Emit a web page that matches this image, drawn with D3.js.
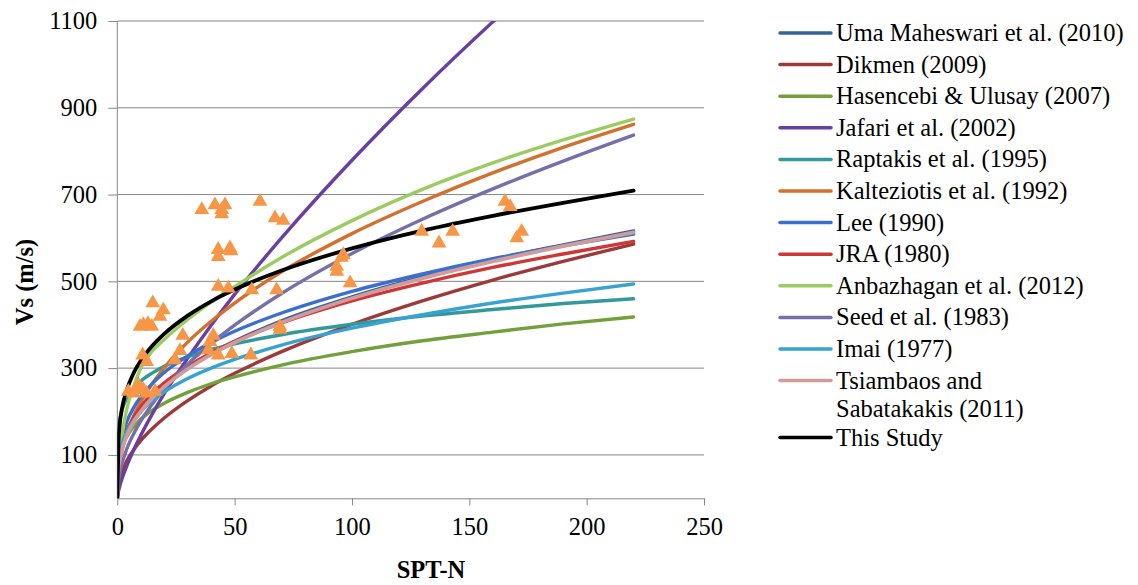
<!DOCTYPE html>
<html>
<head>
<meta charset="utf-8">
<script src="https://cdn.jsdelivr.net/npm/d3@7"></script>
<style>
body { margin: 0; background: #fff; }
svg text { font-family: "Liberation Serif", "Times New Roman", Times, serif; fill: #000; }
</style>
</head>
<body>
<div id="container"></div>
<script>
// SPT-N values where every correlation curve is sampled
var nValues = [0, 0.5, 1, 2, 4, 7, 10, 15, 20, 30, 40, 50, 70, 100, 130, 160, 190, 220];

// Vs (m/s)
var umaMaheswari = [0, 70, 89, 114, 147, 179, 204, 235, 261, 302, 335, 362, 409, 464, 510, 550, 584, 616];
var dikmen       = [0, 32, 44, 61, 86, 112, 133, 161, 185, 225, 259, 288, 338, 401, 455, 503, 546, 586];
var hasencebi    = [0, 81, 98, 118, 142, 165, 182, 203, 219, 244, 264, 280, 307, 338, 363, 383, 402, 418];
var jafari       = [0, 16, 27, 45, 74, 112, 145, 195, 241, 323, 399, 470, 600, 779, 944, 1098, 1244, 1385];
var raptakis     = [0, 161, 181, 204, 230, 253, 270, 289, 304, 326, 343, 356, 377, 401, 420, 435, 449, 460];
var kalteziotis  = [0, 60, 81, 109, 148, 190, 222, 265, 301, 360, 408, 450, 522, 610, 684, 750, 809, 862];
var lee          = [0, 92, 114, 142, 176, 209, 234, 265, 290, 328, 359, 385, 427, 477, 517, 552, 582, 609];
var jra          = [0, 78, 98, 123, 156, 187, 211, 242, 266, 304, 335, 361, 404, 455, 496, 532, 563, 592];
var anbazhagan   = [0, 75, 105, 145, 205, 258, 300, 340, 366, 412, 452, 488, 555, 640, 712, 773, 826, 874];
var seed         = [0, 40, 56, 80, 113, 149, 178, 218, 252, 309, 357, 399, 472, 564, 643, 713, 777, 837];
var imai         = [0, 83, 102, 125, 153, 180, 200, 225, 245, 276, 300, 320, 353, 392, 423, 450, 473, 494];
var tsiambaos    = [0, 68, 87, 112, 144, 176, 200, 232, 257, 298, 331, 359, 405, 461, 507, 546, 581, 613];
var thisStudy    = [0, 130, 168, 207, 249, 289, 317, 352, 379, 421, 454, 481, 525, 576, 617, 651, 681, 709];

// measured points (triangles)
var obsN  = [36, 41.6, 44.5, 45.9, 44.5, 60.8, 67.2, 70.7, 43, 43, 48, 48.5, 43, 47.3, 57.3, 67.9, 93.5, 93.5, 96.3, 95.5,
             99.2, 165.2, 167.4, 129.7, 142.9, 137.1, 172.3, 170.2, 15.1, 19.6, 18.2, 11.1, 14.7, 9.7, 13, 69.3, 69.3, 27.9,
             40.9, 39.5, 26.7, 38.8, 43, 48.8, 56.9, 24.6, 10.8, 12.5, 9, 4.7, 11.1, 16.1, 6.8, 12.5, 8];
var obsVs = [665, 676, 665, 676, 655, 684, 646, 640, 573, 557, 577, 570, 488, 484, 480, 480, 534, 523, 561, 555,
             496, 684, 672, 615, 615, 588, 615, 600, 450, 434, 419, 400, 396, 396, 402, 396, 389, 375,
             375, 361, 340, 342, 330, 333, 330, 319, 330, 315, 261, 246, 250, 246, 242, 242, 250];

var seriesNames = ["Uma Maheswari et al. (2010)", "Dikmen (2009)", "Hasencebi & Ulusay (2007)", "Jafari et al. (2002)",
  "Raptakis et al. (1995)", "Kalteziotis et al. (1992)", "Lee (1990)", "JRA (1980)", "Anbazhagan et al. (2012)",
  "Seed et al. (1983)", "Imai (1977)", "Tsiambaos and|Sabatakakis (2011)", "This Study"];
var seriesValues = [umaMaheswari, dikmen, hasencebi, jafari, raptakis, kalteziotis, lee, jra, anbazhagan,
  seed, imai, tsiambaos, thisStudy];
var seriesColors = ["#36649a", "#9b3a38", "#72a03a", "#6a3fa0", "#33999b", "#d2702f", "#3b6fcf", "#cf3737",
  "#9bcc62", "#7570a8", "#38a3d0", "#d29b9b", "#000000"];

var xTicks = [0, 50, 100, 150, 200, 250];
var yTicks = [100, 300, 500, 700, 900, 1100];

var width = 1138, height = 585;
var fontSize = 24.5;
var svg = d3.select("#container").append("svg")
  .attr("width", width)
  .attr("height", height);

var x = d3.scaleLinear().domain([0, 250]).range([117.3, 704]);
var y = d3.scaleLinear().domain([0, 1100]).range([498.3, 21]);

var axisColor = "#868686";

// gridlines
svg.append("g").selectAll("line")
  .data(yTicks)
  .enter().append("line")
    .attr("x1", x(0)).attr("x2", x(250))
    .attr("y1", d => y(d)).attr("y2", d => y(d))
    .attr("stroke", axisColor).attr("stroke-width", 1);

// y axis
var yAxis = svg.append("g")
  .attr("transform", "translate(" + x(0) + ",0)")
  .call(d3.axisLeft(y).tickValues(yTicks).tickFormat(d3.format("d")).tickSize(9).tickPadding(11));
yAxis.attr("font-family", null).attr("font-size", null);
yAxis.select(".domain").remove();
yAxis.append("line").attr("x1", 0).attr("x2", 0).attr("y1", y(0)).attr("y2", y(1100)).attr("stroke", axisColor);
yAxis.selectAll(".tick line").attr("stroke", axisColor);
yAxis.selectAll(".tick text").attr("font-size", fontSize);

// x axis
var xAxis = svg.append("g")
  .attr("transform", "translate(0," + y(0) + ")")
  .call(d3.axisBottom(x).tickValues(xTicks).tickSize(7).tickPadding(12).tickSizeOuter(0));
xAxis.attr("font-family", null).attr("font-size", null);
xAxis.select(".domain").attr("stroke", axisColor);
xAxis.selectAll(".tick line").attr("stroke", axisColor);
xAxis.selectAll(".tick text").attr("font-size", fontSize);

// axis titles
svg.append("text")
  .attr("x", 431).attr("y", 578)
  .attr("text-anchor", "middle")
  .attr("font-size", fontSize).attr("font-weight", "bold")
  .text("SPT-N");
svg.append("text")
  .attr("transform", "translate(33,282) rotate(-90)")
  .attr("text-anchor", "middle")
  .attr("font-size", fontSize).attr("font-weight", "bold")
  .text("Vs (m/s)");

// clip for curves leaving the plot
svg.append("clipPath").attr("id", "plotClip")
  .append("rect")
    .attr("x", x(0)).attr("y", y(1100))
    .attr("width", x(250) - x(0)).attr("height", y(0) - y(1100));

var line = d3.line()
  .x((d, i) => x(nValues[i]))
  .y(d => y(d))
  .curve(d3.curveMonotoneX);

var curves = svg.append("g").attr("clip-path", "url(#plotClip)");
seriesValues.forEach(function(vals, i) {
  curves.append("path")
    .datum(vals)
    .attr("d", line)
    .attr("fill", "none")
    .attr("stroke", seriesColors[i])
    .attr("stroke-width", i >= 11 ? 3.8 : 3.4)
    .attr("stroke-linecap", "round");
});

// observed points
var tri = d3.symbol().type(d3.symbolTriangle).size(95);
svg.append("g").selectAll("path")
  .data(obsN)
  .enter().append("path")
    .attr("d", tri)
    .attr("transform", (d, i) => "translate(" + x(d) + "," + y(obsVs[i]) + ")")
    .attr("fill", "#f79646");

// legend
var legend = svg.append("g");
var rowY = 33;
seriesNames.forEach(function(name, i) {
  var parts = name.split("|");
  legend.append("line")
    .attr("x1", 780).attr("x2", 831)
    .attr("y1", rowY).attr("y2", rowY)
    .attr("stroke", seriesColors[i])
    .attr("stroke-width", 3.5)
    .attr("stroke-linecap", "round");
  var t = legend.append("text")
    .attr("x", 836).attr("y", rowY)
    .attr("font-size", fontSize);
  parts.forEach(function(p, j) {
    t.append("tspan").attr("x", 836).attr("dy", j === 0 ? "0.33em" : "1.15em").text(p);
  });
  rowY += parts.length > 1 ? 57 : 31.6;
});
</script>
</body>
</html>
